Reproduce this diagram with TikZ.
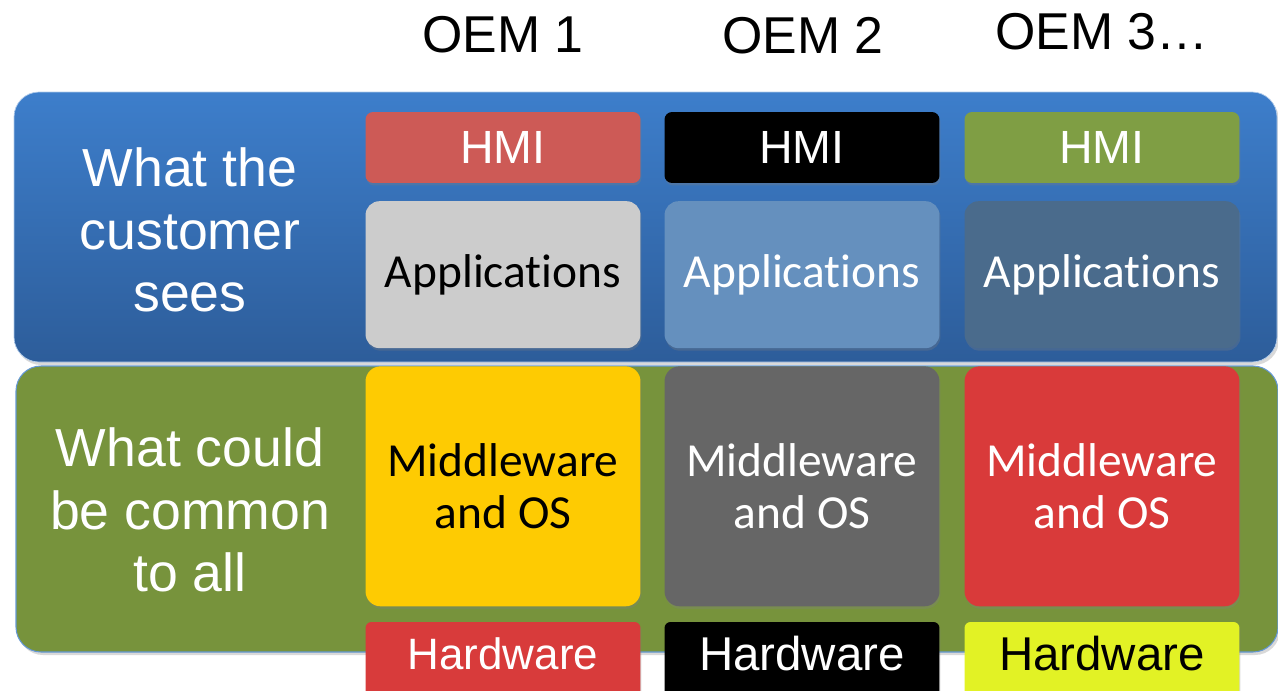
\documentclass[tikz,border=0pt]{standalone}
\usepackage{fontspec}
\setmainfont{Liberation Sans}
\newfontfamily\calibri[Ligatures=NoCommon]{Carlito}
\usetikzlibrary{positioning,shadows}

\definecolor{paneltop}{HTML}{3D7ECB}
\definecolor{panelbot}{HTML}{2D5D9A}
\definecolor{panelgreen}{HTML}{77933C}
\definecolor{hmired}{HTML}{CD5A56}
\definecolor{hmigreen}{HTML}{7F9E44}
\definecolor{appgray}{HTML}{CCCCCC}
\definecolor{applight}{HTML}{6590BE}
\definecolor{appdark}{HTML}{4A6B8C}
\definecolor{mwyellow}{HTML}{FECB02}
\definecolor{mwgray}{HTML}{666666}
\definecolor{mwred}{HTML}{D93A3A}
\definecolor{hwred}{HTML}{D83B3B}
\definecolor{hwyellow}{HTML}{E2F225}

\begin{document}
\begin{tikzpicture}[x=0.02cm,y=0.02cm,node distance=0.35cm,
  stack/.style={minimum width=5.5cm,inner sep=0pt,align=center,fill=#1,
    drop shadow={opacity=0.3,shadow xshift=0.02cm,shadow yshift=-0.05cm}},
  hmibox/.style={stack=#1,minimum height=1.42cm,rounded corners=0.15cm,
    font=\fontsize{26.5}{30}\selectfont},
  appbox/.style={stack=#1,minimum height=2.94cm,rounded corners=0.28cm,
    font=\calibri\fontsize{27}{30}\selectfont},
  mwbox/.style={stack=#1,minimum height=4.8cm,rounded corners=0.3cm,
    font=\calibri\fontsize{27}{30}\selectfont},
  hwbox/.style={stack=#1,minimum height=1.5cm,rounded corners=0.12cm,
    font=\fontsize{27}{30}\selectfont},
  oem/.style={font=\fontsize{29.5}{32}\selectfont},
  side/.style={text=white,align=center,font=\fontsize{30.5}{35.7}\selectfont}]
\useasboundingbox (0,0) rectangle (1278,-690);
\clip (0,0) rectangle (1278,-690);
%panels
\shade[top color=paneltop,bottom color=panelbot,rounded corners=0.5cm,
  drop shadow={opacity=0.3,shadow xshift=0.04cm,shadow yshift=-0.06cm}]
  (14,-92) rectangle (1277,-362);
\draw[white!60!paneltop,line width=0.4pt,rounded corners=0.5cm] (14,-92) rectangle (1277,-362);
\fill[panelgreen,rounded corners=0.5cm,
  drop shadow={opacity=0.3,shadow xshift=0.04cm,shadow yshift=-0.06cm}]
  (16,-366) rectangle (1278,-652);
\draw[paneltop!80!white,line width=0.6pt,rounded corners=0.5cm] (16,-366) rectangle (1278,-652);
%side labels
\node[side] (seen) at (190,-230) {What the\\customer\\sees};
\node[side] (common) at (190,-510) {What could\\be common\\to all};
%column 1
\node[hmibox=hmired,text=white] (hmiA) at (503,-147.5) {HMI};
\node[appbox=appgray,text=black,below=of hmiA] (appA) {Applications};
\node[mwbox=mwyellow,text=black,below=of appA] (mwA) {Middleware\\and OS};
\node[hwbox=hwred,text=white,below=of mwA,yshift=0.05cm,
  font=\fontsize{25}{28}\selectfont] (hwA) {Hardware\strut};
%column 2
\node[hmibox=black,text=white] (hmiB) at (802,-147.5) {HMI};
\node[appbox=applight,text=white,below=of hmiB] (appB) {Applications};
\node[mwbox=mwgray,text=white,below=of appB] (mwB) {Middleware\\and OS};
\node[hwbox=black,text=white,below=of mwB,yshift=0.05cm] (hwB) {Hardware\strut};
%column 3
\node[hmibox=hmigreen,text=white] (hmiC) at (1102,-147.5) {HMI};
\node[appbox=appdark,text=white,below=of hmiC] (appC) {Applications};
\node[mwbox=mwred,text=white,below=of appC] (mwC) {Middleware\\and OS};
\node[hwbox=hwyellow,text=black,below=of mwC,yshift=0.05cm] (hwC) {Hardware\strut};
%headers
\node[oem] (oemA) at (503,-35) {OEM 1};
\node[oem] (oemB) at (803,-36) {OEM 2};
\node[oem] (oemC) at (1102,-32) {OEM 3…};
\end{tikzpicture}
\end{document}
